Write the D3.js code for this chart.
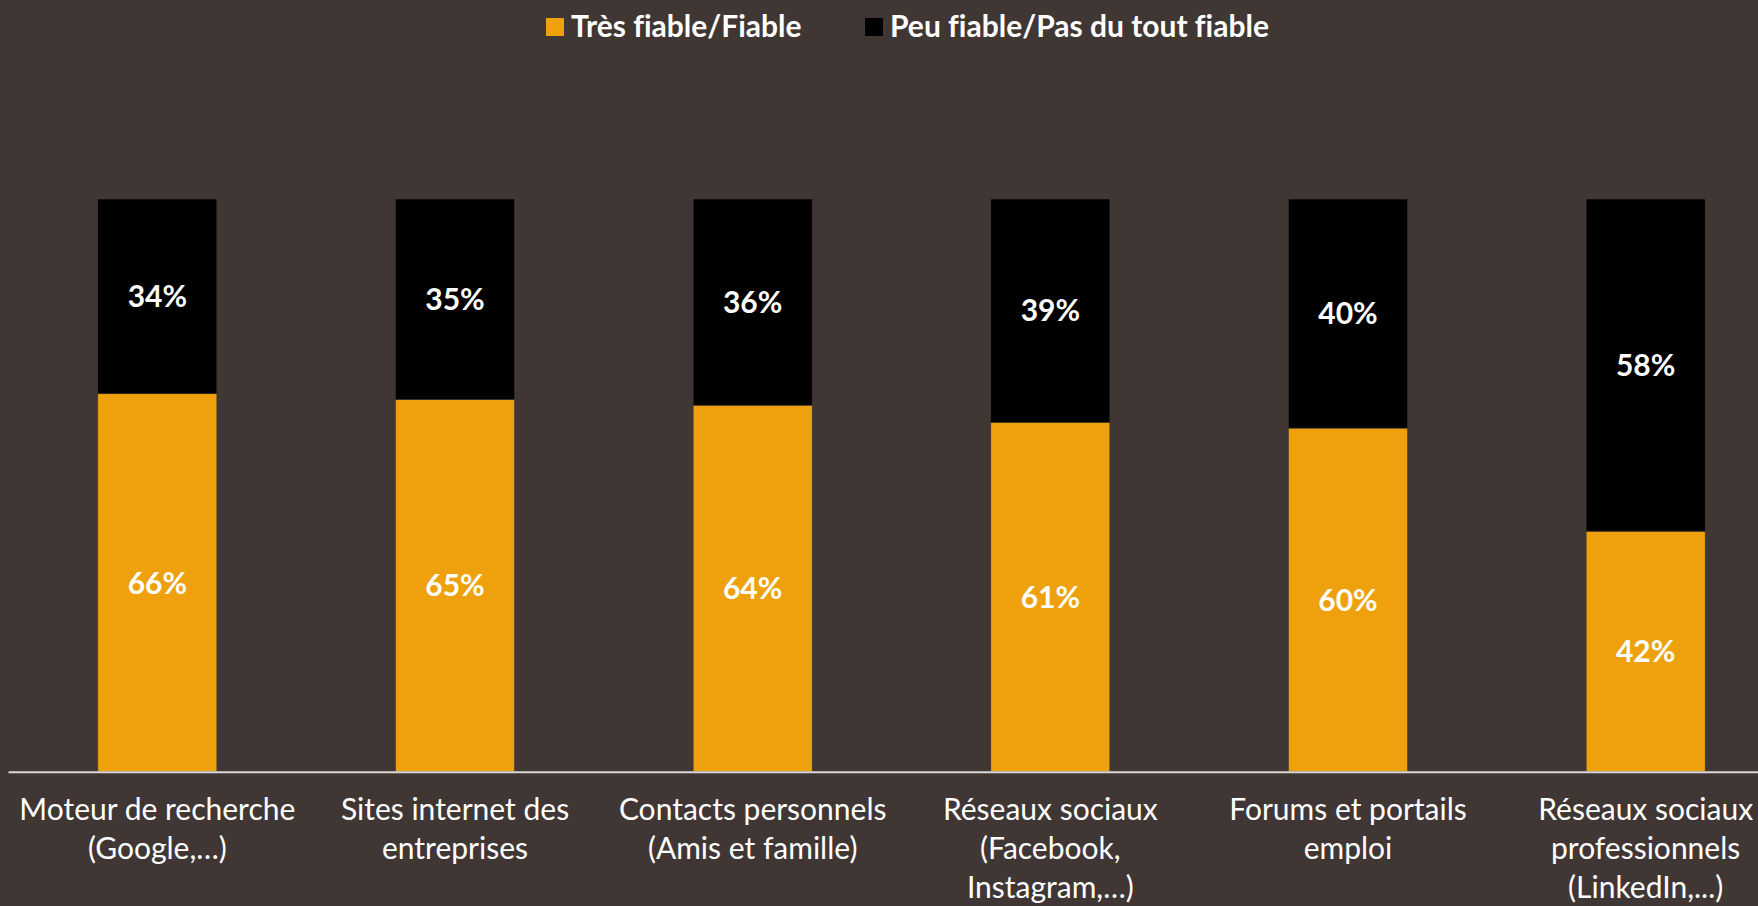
<!DOCTYPE html>
<html><head><meta charset="utf-8">
<script src="https://cdn.jsdelivr.net/npm/d3@7"></script>
<style>
html,body{margin:0;padding:0;background:#403735;}
svg{display:block;font-family:Lato,"Open Sans",sans-serif;font-variant-ligatures:none;font-feature-settings:"liga" 0;}
</style></head>
<body>
<svg id="chart" width="1758" height="906"></svg>
<script>
const categories = [
  ["Moteur de recherche","(Google,…)"],
  ["Sites internet des","entreprises"],
  ["Contacts personnels","(Amis et famille)"],
  ["Réseaux sociaux","(Facebook,","Instagram,…)"],
  ["Forums et portails","emploi"],
  ["Réseaux sociaux","professionnels","(LinkedIn,...)"]
];
const seriesNames = ["Très fiable/Fiable","Peu fiable/Pas du tout fiable"];
const fiable = [66,65,64,61,60,42];
const peuFiable = [34,35,36,39,40,58];
const colors = ["#EEA10C","#000000"];

const W = 1758, H = 906;
const svg = d3.select("#chart");
svg.append("rect").attr("width",W).attr("height",H).attr("fill","#403735");

const idx = d3.range(categories.length);
const x = d3.scaleBand().domain(idx).range([8.5,1794.5]).paddingInner(0.6).paddingOuter(0.3);
const y = d3.scaleLinear().domain([0,100]).range([771.7,199]);

const rows = idx.map(i => ({i, a: fiable[i], b: peuFiable[i]}));
const stack = d3.stack().keys(["a","b"])(rows);

const g = svg.append("g");
stack.forEach((layer,k) => {
  g.selectAll(null).data(layer).join("rect")
    .attr("x", d => x(d.data.i))
    .attr("width", x.bandwidth())
    .attr("y", d => y(d[1]))
    .attr("height", d => y(d[0]) - y(d[1]))
    .attr("fill", colors[k])
    .attr("stroke", "#403735").attr("stroke-width", 0.6);
  g.selectAll(null).data(layer).join("text")
    .attr("x", d => x(d.data.i) + x.bandwidth()/2)
    .attr("y", d => (y(d[0]) + y(d[1]))/2)
    .attr("dy","0.36em")
    .attr("text-anchor","middle")
    .attr("fill","#ffffff")
    .attr("font-weight","bold")
    .attr("font-size",30)
    .text(d => (d[1]-d[0]) + "%");
});

// axis line
svg.append("line").attr("x1",x.range()[0]).attr("x2",x.range()[1])
  .attr("y1",y(0)+0.5).attr("y2",y(0)+0.5)
  .attr("stroke","#d9d9d9").attr("stroke-width",2);

// category labels
const lab = svg.append("g");
idx.forEach(i => {
  const t = lab.append("text")
    .attr("x", x(i) + x.bandwidth()/2)
    .attr("y", 820)
    .attr("text-anchor","middle")
    .attr("fill","#ffffff")
    .attr("font-size",30);
  categories[i].forEach((line,j) => {
    t.append("tspan").attr("x", x(i) + x.bandwidth()/2).attr("y", 820 + j*39).text(line);
  });
});

// legend
const legendX = [546, 865];
seriesNames.forEach((n,k) => {
  svg.append("rect").attr("x",legendX[k]).attr("y",18).attr("width",18).attr("height",18).attr("fill",colors[k]);
  svg.append("text").attr("x",legendX[k]+25).attr("y",37)
    .attr("fill","#ffffff").attr("font-weight","bold").attr("font-size",30)
    .text(n);
});
</script>
</body></html>
